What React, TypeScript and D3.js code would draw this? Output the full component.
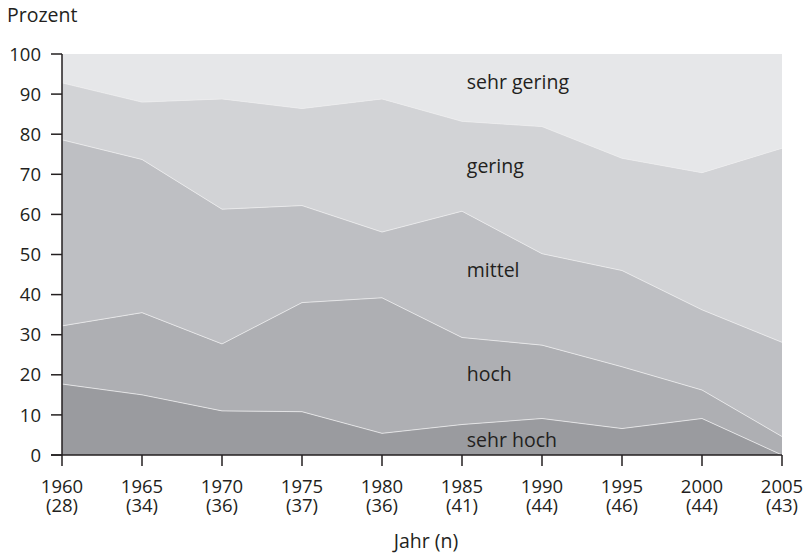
import React from "react";
import * as d3 from "d3";

const years = [1960, 1965, 1970, 1975, 1980, 1985, 1990, 1995, 2000, 2005];
const counts = [28, 34, 36, 37, 36, 41, 44, 46, 44, 43];
const categories = ["sehr hoch", "hoch", "mittel", "gering", "sehr gering"];
const sehrHoch = [17.7, 15.0, 11.0, 10.8, 5.4, 7.6, 9.1, 6.6, 9.1, 0.0];
const hoch = [14.5, 20.5, 16.7, 27.2, 33.8, 21.7, 18.3, 15.4, 7.1, 4.6];
const mittel = [46.4, 38.2, 33.6, 24.2, 16.4, 31.5, 22.8, 24.0, 20.0, 23.5];
const gering = [14.2, 14.3, 27.5, 24.2, 33.2, 22.4, 31.7, 28.0, 34.2, 48.4];
const sehrGering = [7.2, 12.0, 11.2, 13.6, 11.2, 16.8, 18.1, 26.0, 29.6, 23.5];
const yTicks = [0, 10, 20, 30, 40, 50, 60, 70, 80, 90, 100];
const colors = ["#9a9b9f", "#aeafb3", "#bebfc3", "#d2d3d6", "#e6e7e9"];
// label anchor: year and percent position (baseline)
const labelYear = 1985.3;
const labelPos = [2.0, 18.5, 44.4, 70.4, 91.2];

const W = 808;
const H = 555;
const margin = { left: 62, right: 26, top: 54, bottom: 100 };

export default function App() {
  const seriesArrays = [sehrHoch, hoch, mittel, gering, sehrGering];
  const rows = years.map((y, i) => {
    const r: any = { year: y };
    categories.forEach((c, k) => (r[c] = seriesArrays[k][i]));
    return r;
  });
  const stack = d3.stack().keys(categories);
  const layers = stack(rows);

  const x = d3.scaleLinear().domain([1960, 2005]).range([margin.left, W - margin.right]);
  const y = d3.scaleLinear().domain([0, 100]).range([H - margin.bottom, margin.top]);

  const area = d3
    .area<any>()
    .x((d) => x(d.data.year))
    .y0((d) => y(d[0]))
    .y1((d) => y(d[1]));
  const line = d3
    .line<any>()
    .x((d) => x(d.data.year))
    .y((d) => y(d[1]));

  const font = "'Open Sans', 'Noto Sans', sans-serif";
  const textColor = "#231f20";
  const y0 = y(0);
  const numSize = 18.5;
  const wordSize = 19.5;

  return (
    <svg
      width={W}
      height={H}
      style={{ position: "absolute", left: 0, top: 0, display: "block" }}
      fontFamily={font}
      fontSize={numSize}
      fill={textColor}
    >
      <rect width={W} height={H} fill="#ffffff" />
      {layers.map((l, k) => (
        <path key={"a" + k} d={area(l as any) || ""} fill={colors[k]} stroke="none" />
      ))}
      {layers.slice(0, 4).map((l, k) => (
        <path
          key={"l" + k}
          d={line(l as any) || ""}
          fill="none"
          stroke="#ececee"
          strokeWidth={0.8}
        />
      ))}
      {categories.map((c, k) => (
        <text key={"t" + c} x={x(labelYear)} y={y(labelPos[k])} fill={textColor} fontSize={wordSize}>
          {c}
        </text>
      ))}
      {/* y axis */}
      <line x1={x(1960)} x2={x(1960)} y1={y(100)} y2={y0} stroke={textColor} strokeWidth={1.5} />
      {yTicks.map((t) => (
        <g key={"yt" + t}>
          <line x1={x(1960) - 11} x2={x(1960)} y1={y(t)} y2={y(t)} stroke={textColor} strokeWidth={1.5} />
          <text x={41} y={y(t)} dy="0.36em" textAnchor="end">
            {t}
          </text>
        </g>
      ))}
      {/* x axis */}
      <line x1={x(1960) - 11} x2={x(2005)} y1={y0} y2={y0} stroke={textColor} strokeWidth={1.5} />
      {years.map((yr, i) => (
        <g key={"xt" + yr}>
          <line x1={x(yr)} x2={x(yr)} y1={y0} y2={y0 + 11} stroke={textColor} strokeWidth={1.5} />
          <text x={x(yr)} y={493} textAnchor="middle">
            <tspan x={x(yr)}>{yr}</tspan>
            <tspan x={x(yr)} dy={19}>
              ({counts[i]})
            </tspan>
          </text>
        </g>
      ))}
      <text x={7} y={22} fontSize={wordSize}>Prozent</text>
      <text x={426} y={548} textAnchor="middle" fontSize={wordSize}>
        Jahr (n)
      </text>
    </svg>
  );
}
